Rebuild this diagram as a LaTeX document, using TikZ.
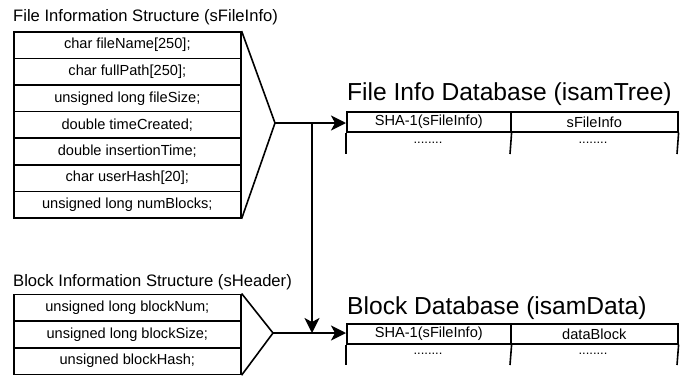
\documentclass[tikz,border=0pt]{standalone}
\usepackage{fontspec}
\setmainfont{Liberation Sans}
\usetikzlibrary{arrows.meta}
\begin{document}
\begin{tikzpicture}[x=1pt,y=-1pt,
  field/.style={draw,line width=1.6pt,rectangle,minimum width=227pt,minimum height=26.6pt,
    inner sep=0pt,anchor=north west,font=\fontsize{14.6pt}{16pt}\selectfont},
  bfield/.style={field,minimum height=26.7pt},
  caption/.style={anchor=west,inner sep=0pt,font=\fontsize{16.6pt}{18pt}\selectfont},
  dbtitle/.style={anchor=west,inner sep=0pt,font=\fontsize{24.6pt}{26pt}\selectfont},
  cell/.style={draw,line width=1.6pt,rectangle,inner sep=0pt,anchor=north west,
    minimum height=20pt,font=\fontsize{14.6pt}{16pt}\selectfont},
  dots/.style={inner sep=0pt,font=\fontsize{13pt}{15pt}\selectfont},
  edge/.style={line width=1.6pt},
  flow/.style={line width=2pt,-{Stealth[length=15pt,width=15pt,inset=4pt]}}]
\useasboundingbox (0,0) rectangle (680,375);

% File information structure
\node[caption] (t1) at (13,17) {File Information Structure (sFileInfo)};
\node[field] (f1) at (13,31.0) {char fileName[250];};
\node[field] (f2) at (13,57.6) {char fullPath[250];};
\node[field] (f3) at (13,84.2) {unsigned long fileSize;};
\node[field] (f4) at (13,110.8) {double timeCreated;};
\node[field] (f5) at (13,137.4) {double insertionTime;};
\node[field] (f6) at (13,164.0) {char userHash[20];};
\node[field] (f7) at (13,190.6) {unsigned long numBlocks;};
\coordinate (tipA) at (275,123);
\draw[edge] (f1.north east) -- (tipA) -- (f7.south east);

% Block information structure
\node[caption] (t2) at (13,282) {Block Information Structure (sHeader)};
\node[bfield] (b1) at (13,293.5) {unsigned long blockNum;};
\node[bfield] (b2) at (13,320.2) {unsigned long blockSize;};
\node[bfield] (b3) at (13,346.9) {unsigned blockHash;};
\coordinate (tipB) at (273,333);
\draw[edge] (b1.north east) -- (tipB) -- (b3.south east);

% File info database
\node[dbtitle] (d1) at (347,94) {File Info Database (isamTree)};
\node[cell,minimum width=164pt] (k1) at (346,111) {SHA-1(sFileInfo)};
\node[cell,minimum width=167pt] (v1) at (510,111) {sFileInfo};
\coordinate (k1b) at (346,154);
\coordinate (m1b) at (510,154);
\coordinate (v1b) at (677,154);
\draw[edge] (k1.south west) -- (k1b);
\draw[edge] (k1.south east) -- (m1b);
\draw[edge] (v1.south east) -- (v1b);
\node[dots] (k1d) at (428,143) {........};
\node[dots] (v1d) at (593,143) {........};

% Block database
\node[dbtitle] (d2) at (347,308) {Block Database (isamData)};
\node[cell,minimum width=164pt] (k2) at (346,323) {SHA-1(sFileInfo)};
\node[cell,minimum width=167pt] (v2) at (510,323) {dataBlock};
\coordinate (k2b) at (346,365);
\coordinate (m2b) at (510,365);
\coordinate (v2b) at (677,365);
\draw[edge] (k2.south west) -- (k2b);
\draw[edge] (k2.south east) -- (m2b);
\draw[edge] (v2.south east) -- (v2b);
\node[dots] (k2d) at (428,354) {........};
\node[dots] (v2d) at (593,354) {........};

% Connectors
\coordinate (split) at (312,123);
\coordinate (join) at (312,333);
\draw[flow] (tipA) -- (k1.west |- tipA);
\draw[flow] (tipB) -- (k2.west |- tipB);
\draw[flow] (split) -- (join);
\end{tikzpicture}
\end{document}
